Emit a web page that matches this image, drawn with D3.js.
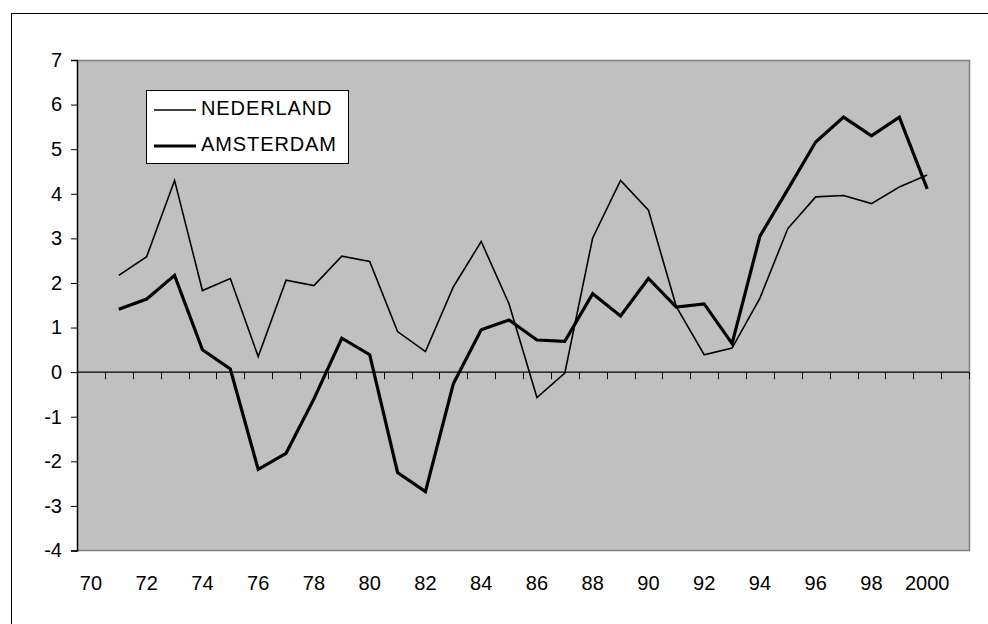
<!DOCTYPE html>
<html>
<head>
<meta charset="utf-8">
<script src="https://cdn.jsdelivr.net/npm/d3@7"></script>
<style>
  html, body { margin: 0; padding: 0; background: #ffffff; }
  svg { display: block; font-family: "Liberation Sans", Arial, sans-serif; }
</style>
</head>
<body>
<svg id="chart" width="988" height="624"></svg>
<script>
// ---- data ----
const years = ["70","71","72","73","74","75","76","77","78","79","80","81","82","83","84","85","86","87","88","89","90","91","92","93","94","95","96","97","98","99","2000","2001"];
const xTickLabels = ["70","72","74","76","78","80","82","84","86","88","90","92","94","96","98","2000"];
const yTickValues = [-4,-3,-2,-1,0,1,2,3,4,5,6,7];
const nederland = [null, 2.17, 2.59, 4.30, 1.83, 2.10, 0.35, 2.06, 1.94, 2.60, 2.48, 0.91, 0.46, 1.91, 2.93, 1.53, -0.57, -0.02, 3.01, 4.30, 3.63, 1.47, 0.39, 0.54, 1.66, 3.22, 3.93, 3.96, 3.78, 4.15, 4.42, null];
const amsterdam = [null, 1.41, 1.64, 2.17, 0.50, 0.07, -2.18, -1.82, -0.60, 0.76, 0.39, -2.25, -2.68, -0.26, 0.95, 1.17, 0.72, 0.69, 1.76, 1.26, 2.10, 1.46, 1.53, 0.64, 3.05, 4.10, 5.16, 5.72, 5.30, 5.72, 4.11, null];
const seriesNames = ["NEDERLAND", "AMSTERDAM"];

// ---- layout ----
const svg = d3.select("#chart");
const pLeft = 77, pRight = 969, pTop = 60, pBottom = 550.5;

// outer frame
svg.append("rect").attr("x", 11.5).attr("y", 13.5).attr("width", 1000).attr("height", 700)
  .attr("fill", "#fff").attr("stroke", "#000").attr("stroke-width", 1);

const x = d3.scaleBand().domain(years).range([pLeft, pRight]).padding(0);
const y = d3.scaleLinear().domain([-4, 7]).range([pBottom, pTop]);
const cx = d => x(d) + x.bandwidth() / 2;

// plot background
svg.append("rect").attr("x", pLeft).attr("y", pTop).attr("width", pRight - pLeft).attr("height", pBottom - pTop)
  .attr("fill", "#c0c0c0");
// top/right/bottom grey border
svg.append("path")
  .attr("d", `M${pLeft},${pTop + 0.5}H${pRight + 0.5}V${pBottom}H${pLeft}`)
  .attr("fill", "none").attr("stroke", "#808080").attr("stroke-width", 1.5);

// y axis
const yAxis = svg.append("g").attr("transform", `translate(${pLeft},0)`)
  .call(d3.axisLeft(y).tickValues(yTickValues).tickSize(6).tickPadding(9).tickFormat(d3.format("d")));
yAxis.select(".domain").attr("stroke", "#000").attr("stroke-width", 1.5);
yAxis.selectAll(".tick line").attr("stroke", "#000");
yAxis.selectAll(".tick text").attr("font-size", 20).attr("fill", "#000")
  .attr("font-family", "'Liberation Sans', Arial, sans-serif").text(d => d < 0 ? "-" + Math.abs(d) : d);

// zero line with category ticks
const zero = y(0);
svg.append("line").attr("x1", pLeft).attr("x2", pRight).attr("y1", zero).attr("y2", zero)
  .attr("stroke", "#000").attr("stroke-width", 1.2);
const boundaries = years.map(d => x(d)).concat([x(years[years.length - 1]) + x.bandwidth()]);
svg.append("g").selectAll("line").data(boundaries.slice(1)).join("line")
  .attr("x1", d => Math.round(d) + 0.5).attr("x2", d => Math.round(d) + 0.5)
  .attr("y1", zero).attr("y2", zero + 7)
  .attr("stroke", "#000").attr("stroke-width", 1);

// x tick labels
svg.append("g").selectAll("text").data(xTickLabels).join("text")
  .attr("x", d => cx(d)).attr("y", 590)
  .attr("text-anchor", "middle").attr("font-size", 20).attr("fill", "#000")
  .text(d => d);

// lines
const line = d3.line().defined(d => d[1] !== null).x(d => cx(d[0])).y(d => y(d[1]));
svg.append("path").datum(years.map((yr, i) => [yr, nederland[i]]))
  .attr("d", line).attr("fill", "none").attr("stroke", "#000").attr("stroke-width", 1.6)
  .attr("stroke-linejoin", "miter");
svg.append("path").datum(years.map((yr, i) => [yr, amsterdam[i]]))
  .attr("d", line).attr("fill", "none").attr("stroke", "#000").attr("stroke-width", 3.2)
  .attr("stroke-linejoin", "miter");

// legend
const lg = svg.append("g");
lg.append("rect").attr("x", 146.5).attr("y", 90.5).attr("width", 202).attr("height", 73)
  .attr("fill", "#fff").attr("stroke", "#000").attr("stroke-width", 1);
const legendRows = [
  { name: seriesNames[0], w: 1.6, ly: 110, ty: 115 },
  { name: seriesNames[1], w: 3.2, ly: 146, ty: 151 }
];
legendRows.forEach(r => {
  lg.append("line").attr("x1", 154).attr("x2", 196).attr("y1", r.ly).attr("y2", r.ly)
    .attr("stroke", "#000").attr("stroke-width", r.w);
  lg.append("text").attr("x", 201).attr("y", r.ty).attr("font-size", 20).attr("fill", "#000")
    .attr("letter-spacing", 0.9).text(r.name);
});
</script>
</body>
</html>
